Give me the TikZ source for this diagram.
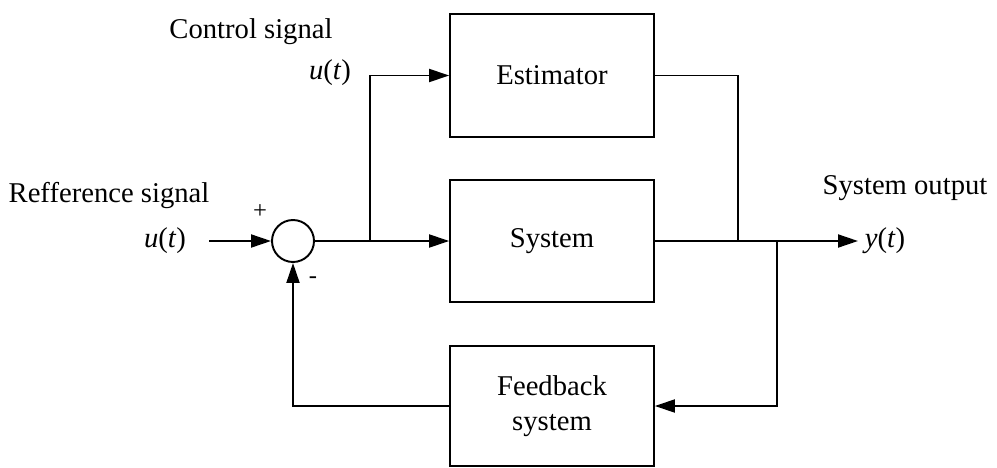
\documentclass[tikz,border=0pt]{standalone}
\usepackage{fontspec}
\setmainfont{Liberation Serif}
\usetikzlibrary{arrows.meta,positioning,calc}
\tikzset{
  block/.style={draw, line width=1pt, minimum width=4.08cm, minimum height=2.44cm, align=center},
  sumnode/.style={draw, circle, line width=1.1pt, minimum size=0.84cm, inner sep=0pt},
  sig/.style={line width=1.1pt, -{Triangle[length=4mm,width=2.6mm]}},
  wire/.style={line width=1.1pt}
}

\begin{document}
\begin{tikzpicture}[font=\fontsize{16.3}{20}\selectfont]
  \useasboundingbox (0,0) rectangle (19.94,9.34);
  % blocks
  \node[block, minimum height=2.46cm] (est) at (11.04,7.83) {Estimator};
  \node[block] (sys) at (11.04,4.52) {System};
  \node[block, minimum height=2.4cm] (fb) at (11.04,1.22) {Feedback\\system};
  \node[sumnode] (sum) at (5.86,4.52) {};
  % branch points
  \coordinate (in) at (4.18,4.52);
  \coordinate (split) at (7.4,4.52);
  \coordinate (join) at (14.76,4.52);
  \coordinate (tap) at (15.54,4.52);
  \coordinate (out) at (17.16,4.52);

  % labels
  \node (reflabel) at (2.18,5.42) {Refference signal};
  \node (refu) at (3.3,4.52) {\textit{u}(\textit{t})};
  \node (ctrllabel) at (5.02,8.7) {Control signal};
  \node (ctrlu) at (6.6,7.88) {\textit{u}(\textit{t})};
  \node (outlabel) at (18.1,5.58) {System output};
  \node (outy) at (17.7,4.52) {\textit{y}(\textit{t})};
  \node[font=\fontsize{14}{16}\selectfont] (plus) at (5.2,5.1) {+};
  \node[font=\fontsize{14}{16}\selectfont] (minus) at (6.26,3.74) {-};

  % forward path
  \draw[sig] (in) -- (sum.west);
  \draw[sig] (sum.east) -- (sys.west);
  \draw[sig] (split) -- (split |- est.west) -- (est.west);
  \draw[wire] (est.east) -- (join |- est.east) -- (join);
  \draw[sig] (sys.east) -- (out);

  % feedback path
  \draw[sig] (tap) -- (tap |- fb.east) -- (fb.east);
  \draw[sig] (fb.west) -- (sum |- fb.west) -- (sum.south);
\end{tikzpicture}
\end{document}
